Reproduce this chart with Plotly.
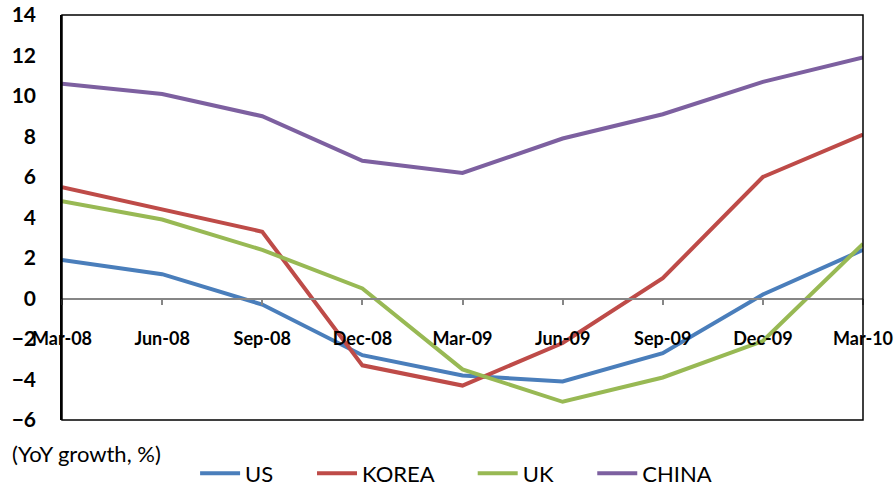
import plotly.graph_objects as go

quarters = ["Mar-08", "Jun-08", "Sep-08", "Dec-08", "Mar-09",
            "Jun-09", "Sep-09", "Dec-09", "Mar-10"]
us = [1.9, 1.2, -0.3, -2.8, -3.8, -4.1, -2.7, 0.2, 2.4]
korea = [5.5, 4.4, 3.3, -3.3, -4.3, -2.2, 1.0, 6.0, 8.1]
uk = [4.8, 3.9, 2.4, 0.5, -3.5, -5.1, -3.9, -2.1, 2.7]
china = [10.6, 10.1, 9.0, 6.8, 6.2, 7.9, 9.1, 10.7, 11.9]
y_ticks = [14, 12, 10, 8, 6, 4, 2, 0, -2, -4, -6]

series = [
    ("US", us, "#4A7EBB"),
    ("KOREA", korea, "#BE4B48"),
    ("UK", uk, "#98B954"),
    ("CHINA", china, "#7D60A0"),
]

fig = go.Figure()
for i, (name, vals, color) in enumerate(series):
    # trailing no-break spaces widen the gap between legend entries
    pad = "\u00a0" * 6 if i < len(series) - 1 else ""
    fig.add_trace(go.Scatter(
        x=quarters, y=vals, name=name + pad, mode="lines",
        line=dict(color=color, width=4),
    ))

y_min, y_max = -6, 14
fig.update_layout(
    width=896, height=486,
    margin=dict(l=62, r=33, t=15, b=66, autoexpand=False),
    paper_bgcolor="white", plot_bgcolor="white",
    font=dict(family="Lato", color="black"),
    showlegend=True,
    legend=dict(
        orientation="h", x=0.492, xanchor="center", xref="paper",
        y=-0.132, yanchor="middle",
        font=dict(size=22, family="Lato"),
        itemwidth=40,
    ),
    xaxis=dict(
        type="category", range=[0, len(quarters) - 1],
        anchor="free", position=(0 - y_min) / (y_max - y_min),
        showline=True, linecolor="#868686", linewidth=1.5,
        ticks="outside", ticklen=6, tickcolor="#868686", tickwidth=1.5,
        ticklabelstandoff=18,
        tickfont=dict(size=18, family="Lato", color="black", weight="bold"),
        showgrid=False, zeroline=False,
    ),
    yaxis=dict(
        range=[y_min, y_max], tickvals=y_ticks,
        showline=True, linecolor="black", linewidth=1.5,
        ticks="", ticklabelstandoff=20,
        tickfont=dict(size=21, family="Lato", color="black", weight="bold"),
        showgrid=False, zeroline=False,
    ),
    shapes=[dict(
        type="rect", xref="x domain", yref="y domain",
        x0=0, x1=1, y0=0, y1=1,
        line=dict(color="black", width=1.5), layer="above",
    )],
    annotations=[dict(
        text="(YoY growth, %)", xref="paper", yref="paper",
        x=-0.065, y=-0.082, xanchor="left", yanchor="middle",
        showarrow=False, font=dict(size=22, family="Lato"),
    )],
)

fig.write_html("out.html")
